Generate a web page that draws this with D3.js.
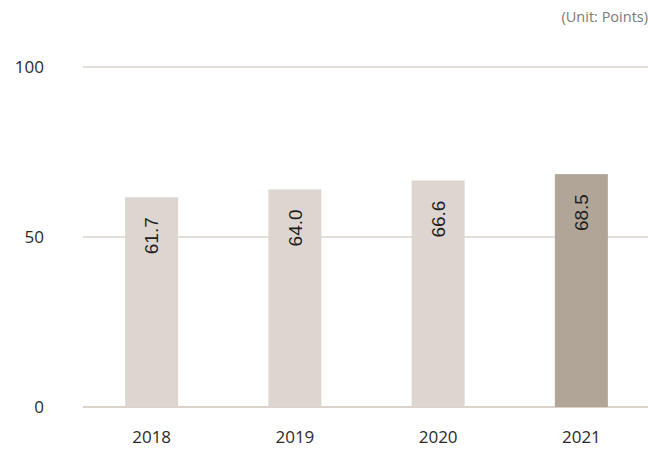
<!DOCTYPE html>
<html>
<head>
<meta charset="utf-8">
<script src="https://cdn.jsdelivr.net/npm/d3@7"></script>
<style>
  html, body { margin: 0; padding: 0; background: #ffffff; }
  svg { display: block; }
</style>
</head>
<body>
<div id="chart"></div>
<script>
// Yearly scores
const years = ["2018", "2019", "2020", "2021"];
const scores = [61.7, 64.0, 66.6, 68.5];
const yTicks = [0, 50, 100];
const unitLabel = "(Unit: Points)";

const width = 648, height = 449;
const fontFamily = "'Open Sans', 'Noto Sans', sans-serif";

const svg = d3.select("#chart").append("svg")
  .attr("width", width)
  .attr("height", height);

const x = d3.scaleBand()
  .domain(years)
  .range([80, 653])
  .paddingInner(0.63)
  .paddingOuter(0.315);

const y = d3.scaleLinear()
  .domain([0, 100])
  .range([407, 67]);

// Horizontal gridlines
svg.append("g")
  .selectAll("line")
  .data(yTicks)
  .join("line")
  .attr("x1", 83)
  .attr("x2", width)
  .attr("y1", d => y(d))
  .attr("y2", d => y(d))
  .attr("stroke", d => d === 0 ? "#cdc4b8" : "#dad3ca")
  .attr("stroke-width", 1.5);

// Y axis labels
const yAxis = d3.axisLeft(y).tickValues(yTicks).tickSize(0).tickPadding(0);
svg.append("g")
  .attr("transform", "translate(44,0)")
  .call(yAxis)
  .call(g => g.select(".domain").remove())
  .call(g => g.selectAll("text")
    .attr("font-family", fontFamily)
    .attr("font-size", 17)
    .attr("fill", "#2a2a2a"));

// Bars
svg.append("g")
  .selectAll("rect")
  .data(years)
  .join("rect")
  .attr("x", d => x(d))
  .attr("width", x.bandwidth())
  .attr("y", (d, i) => y(scores[i]))
  .attr("height", (d, i) => y(0) - y(scores[i]))
  .attr("fill", (d, i) => i === years.length - 1 ? "#b1a597" : "#ddd6d0");

// Value labels, rotated inside bars
svg.append("g")
  .selectAll("text")
  .data(years)
  .join("text")
  .attr("transform", (d, i) =>
    `translate(${x(d) + x.bandwidth() / 2},${y(scores[i]) + 20}) rotate(-90)`)
  .attr("text-anchor", "end")
  .attr("dy", "0.35em")
  .attr("font-family", "'Liberation Sans', Arial, sans-serif")
  .attr("font-size", 19)
  .attr("fill", "#1e1e1e")
  .text((d, i) => scores[i].toFixed(1));

// X axis labels
const xAxis = d3.axisBottom(x).tickSize(0).tickPadding(0);
svg.append("g")
  .attr("transform", "translate(0,431)")
  .call(xAxis)
  .call(g => g.select(".domain").remove())
  .call(g => g.selectAll("text")
    .attr("font-family", fontFamily)
    .attr("font-size", 17)
    .attr("fill", "#2a2a2a"));

// Unit note
svg.append("text")
  .attr("x", 648)
  .attr("y", 22)
  .attr("text-anchor", "end")
  .attr("font-family", fontFamily)
  .attr("font-size", 14.5)
  .attr("fill", "#7a7a7a")
  .text(unitLabel);
</script>
</body>
</html>
